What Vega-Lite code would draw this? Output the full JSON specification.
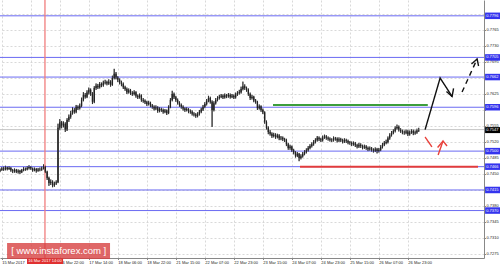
{
"$schema":"https://vega.github.io/schema/vega-lite/v6.json",
"width":484,"height":258,
"autosize":{"type":"none"},
"padding":{"left":0,"top":0,"right":16,"bottom":8},
"background":"white",
"view":{"stroke":null},
"config":{"font":"Liberation Sans"},
"datasets":{
"one":[{}],
"candles":[
{"i":0,"o":0.7457,"h":0.7462,"l":0.7454,"c":0.7459},
{"i":1,"o":0.7459,"h":0.7465,"l":0.7457,"c":0.7462},
{"i":2,"o":0.7462,"h":0.7466,"l":0.7457,"c":0.7460},
{"i":3,"o":0.7460,"h":0.7468,"l":0.7458,"c":0.7464},
{"i":4,"o":0.7464,"h":0.7466,"l":0.7458,"c":0.7461},
{"i":5,"o":0.7461,"h":0.7467,"l":0.7459,"c":0.7463},
{"i":6,"o":0.7463,"h":0.7465,"l":0.7455,"c":0.7458},
{"i":7,"o":0.7458,"h":0.7461,"l":0.7452,"c":0.7456},
{"i":8,"o":0.7456,"h":0.7462,"l":0.7453,"c":0.7459},
{"i":9,"o":0.7459,"h":0.7461,"l":0.7452,"c":0.7455},
{"i":10,"o":0.7455,"h":0.7460,"l":0.7451,"c":0.7457},
{"i":11,"o":0.7457,"h":0.7459,"l":0.7450,"c":0.7454},
{"i":12,"o":0.7454,"h":0.7461,"l":0.7452,"c":0.7458},
{"i":13,"o":0.7458,"h":0.7465,"l":0.7456,"c":0.7461},
{"i":14,"o":0.7461,"h":0.7464,"l":0.7457,"c":0.7460},
{"i":15,"o":0.7460,"h":0.7467,"l":0.7458,"c":0.7463},
{"i":16,"o":0.7463,"h":0.7469,"l":0.7460,"c":0.7465},
{"i":17,"o":0.7465,"h":0.7467,"l":0.7459,"c":0.7462},
{"i":18,"o":0.7462,"h":0.7464,"l":0.7455,"c":0.7458},
{"i":19,"o":0.7458,"h":0.7464,"l":0.7456,"c":0.7461},
{"i":20,"o":0.7461,"h":0.7463,"l":0.7453,"c":0.7457},
{"i":21,"o":0.7457,"h":0.7463,"l":0.7455,"c":0.7460},
{"i":22,"o":0.7460,"h":0.7464,"l":0.7456,"c":0.7459},
{"i":23,"o":0.7459,"h":0.7466,"l":0.7457,"c":0.7462},
{"i":24,"o":0.7462,"h":0.7471,"l":0.7460,"c":0.7466},
{"i":25,"o":0.7466,"h":0.7468,"l":0.7452,"c":0.7455},
{"i":26,"o":0.7455,"h":0.7457,"l":0.7437,"c":0.7441},
{"i":27,"o":0.7441,"h":0.7444,"l":0.7424,"c":0.7430},
{"i":28,"o":0.7430,"h":0.7438,"l":0.7426,"c":0.7433},
{"i":29,"o":0.7433,"h":0.7436,"l":0.7421,"c":0.7425},
{"i":30,"o":0.7425,"h":0.7433,"l":0.7422,"c":0.7429},
{"i":31,"o":0.7429,"h":0.7436,"l":0.7426,"c":0.7432},
{"i":32,"o":0.7432,"h":0.7560,"l":0.7430,"c":0.7551},
{"i":33,"o":0.7551,"h":0.7570,"l":0.7546,"c":0.7563},
{"i":34,"o":0.7563,"h":0.7566,"l":0.7550,"c":0.7556},
{"i":35,"o":0.7556,"h":0.7565,"l":0.7552,"c":0.7560},
{"i":36,"o":0.7560,"h":0.7563,"l":0.7542,"c":0.7547},
{"i":37,"o":0.7547,"h":0.7572,"l":0.7544,"c":0.7568},
{"i":38,"o":0.7568,"h":0.7580,"l":0.7564,"c":0.7575},
{"i":39,"o":0.7575,"h":0.7588,"l":0.7571,"c":0.7583},
{"i":40,"o":0.7583,"h":0.7596,"l":0.7580,"c":0.7590},
{"i":41,"o":0.7590,"h":0.7594,"l":0.7582,"c":0.7586},
{"i":42,"o":0.7586,"h":0.7601,"l":0.7583,"c":0.7597},
{"i":43,"o":0.7597,"h":0.7600,"l":0.7590,"c":0.7594},
{"i":44,"o":0.7594,"h":0.7604,"l":0.7591,"c":0.7599},
{"i":45,"o":0.7599,"h":0.7617,"l":0.7596,"c":0.7612},
{"i":46,"o":0.7612,"h":0.7629,"l":0.7609,"c":0.7623},
{"i":47,"o":0.7623,"h":0.7627,"l":0.7615,"c":0.7619},
{"i":48,"o":0.7619,"h":0.7633,"l":0.7616,"c":0.7628},
{"i":49,"o":0.7628,"h":0.7639,"l":0.7624,"c":0.7634},
{"i":50,"o":0.7634,"h":0.7637,"l":0.7621,"c":0.7626},
{"i":51,"o":0.7626,"h":0.7629,"l":0.7603,"c":0.7608},
{"i":52,"o":0.7608,"h":0.7642,"l":0.7605,"c":0.7638},
{"i":53,"o":0.7638,"h":0.7648,"l":0.7634,"c":0.7643},
{"i":54,"o":0.7643,"h":0.7647,"l":0.7636,"c":0.7640},
{"i":55,"o":0.7640,"h":0.7651,"l":0.7637,"c":0.7647},
{"i":56,"o":0.7647,"h":0.7650,"l":0.7640,"c":0.7644},
{"i":57,"o":0.7644,"h":0.7654,"l":0.7641,"c":0.7650},
{"i":58,"o":0.7650,"h":0.7656,"l":0.7646,"c":0.7651},
{"i":59,"o":0.7651,"h":0.7654,"l":0.7644,"c":0.7648},
{"i":60,"o":0.7648,"h":0.7657,"l":0.7645,"c":0.7652},
{"i":61,"o":0.7652,"h":0.7655,"l":0.7641,"c":0.7645},
{"i":62,"o":0.7645,"h":0.7665,"l":0.7643,"c":0.7660},
{"i":63,"o":0.7660,"h":0.7680,"l":0.7657,"c":0.7669},
{"i":64,"o":0.7669,"h":0.7673,"l":0.7657,"c":0.7661},
{"i":65,"o":0.7661,"h":0.7664,"l":0.7651,"c":0.7656},
{"i":66,"o":0.7656,"h":0.7659,"l":0.7646,"c":0.7650},
{"i":67,"o":0.7650,"h":0.7654,"l":0.7642,"c":0.7647},
{"i":68,"o":0.7647,"h":0.7650,"l":0.7636,"c":0.7640},
{"i":69,"o":0.7640,"h":0.7643,"l":0.7632,"c":0.7636},
{"i":70,"o":0.7636,"h":0.7639,"l":0.7625,"c":0.7629},
{"i":71,"o":0.7629,"h":0.7637,"l":0.7626,"c":0.7633},
{"i":72,"o":0.7633,"h":0.7636,"l":0.7623,"c":0.7627},
{"i":73,"o":0.7627,"h":0.7631,"l":0.7621,"c":0.7625},
{"i":74,"o":0.7625,"h":0.7633,"l":0.7622,"c":0.7629},
{"i":75,"o":0.7629,"h":0.7631,"l":0.7617,"c":0.7621},
{"i":76,"o":0.7621,"h":0.7624,"l":0.7614,"c":0.7618},
{"i":77,"o":0.7618,"h":0.7626,"l":0.7615,"c":0.7622},
{"i":78,"o":0.7622,"h":0.7624,"l":0.7608,"c":0.7612},
{"i":79,"o":0.7612,"h":0.7616,"l":0.7606,"c":0.7610},
{"i":80,"o":0.7610,"h":0.7613,"l":0.7603,"c":0.7607},
{"i":81,"o":0.7607,"h":0.7610,"l":0.7599,"c":0.7603},
{"i":82,"o":0.7603,"h":0.7610,"l":0.7600,"c":0.7606},
{"i":83,"o":0.7606,"h":0.7608,"l":0.7596,"c":0.7600},
{"i":84,"o":0.7600,"h":0.7603,"l":0.7593,"c":0.7597},
{"i":85,"o":0.7597,"h":0.7600,"l":0.7589,"c":0.7593},
{"i":86,"o":0.7593,"h":0.7600,"l":0.7590,"c":0.7596},
{"i":87,"o":0.7596,"h":0.7598,"l":0.7584,"c":0.7588},
{"i":88,"o":0.7588,"h":0.7596,"l":0.7585,"c":0.7592},
{"i":89,"o":0.7592,"h":0.7595,"l":0.7586,"c":0.7590},
{"i":90,"o":0.7590,"h":0.7593,"l":0.7582,"c":0.7586},
{"i":91,"o":0.7586,"h":0.7592,"l":0.7583,"c":0.7589},
{"i":92,"o":0.7589,"h":0.7591,"l":0.7579,"c":0.7583},
{"i":93,"o":0.7583,"h":0.7600,"l":0.7581,"c":0.7596},
{"i":94,"o":0.7596,"h":0.7616,"l":0.7594,"c":0.7612},
{"i":95,"o":0.7612,"h":0.7632,"l":0.7609,"c":0.7625},
{"i":96,"o":0.7625,"h":0.7628,"l":0.7614,"c":0.7618},
{"i":97,"o":0.7618,"h":0.7621,"l":0.7608,"c":0.7612},
{"i":98,"o":0.7612,"h":0.7615,"l":0.7602,"c":0.7606},
{"i":99,"o":0.7606,"h":0.7609,"l":0.7597,"c":0.7601},
{"i":100,"o":0.7601,"h":0.7604,"l":0.7593,"c":0.7597},
{"i":101,"o":0.7597,"h":0.7600,"l":0.7589,"c":0.7593},
{"i":102,"o":0.7593,"h":0.7596,"l":0.7586,"c":0.7590},
{"i":103,"o":0.7590,"h":0.7596,"l":0.7587,"c":0.7592},
{"i":104,"o":0.7592,"h":0.7594,"l":0.7583,"c":0.7587},
{"i":105,"o":0.7587,"h":0.7591,"l":0.7582,"c":0.7586},
{"i":106,"o":0.7586,"h":0.7589,"l":0.7578,"c":0.7582},
{"i":107,"o":0.7582,"h":0.7585,"l":0.7576,"c":0.7580},
{"i":108,"o":0.7580,"h":0.7583,"l":0.7573,"c":0.7577},
{"i":109,"o":0.7577,"h":0.7585,"l":0.7574,"c":0.7581},
{"i":110,"o":0.7581,"h":0.7590,"l":0.7578,"c":0.7586},
{"i":111,"o":0.7586,"h":0.7595,"l":0.7583,"c":0.7591},
{"i":112,"o":0.7591,"h":0.7601,"l":0.7588,"c":0.7597},
{"i":113,"o":0.7597,"h":0.7607,"l":0.7594,"c":0.7603},
{"i":114,"o":0.7603,"h":0.7614,"l":0.7600,"c":0.7610},
{"i":115,"o":0.7610,"h":0.7621,"l":0.7607,"c":0.7616},
{"i":116,"o":0.7616,"h":0.7619,"l":0.7604,"c":0.7608},
{"i":117,"o":0.7608,"h":0.7611,"l":0.7553,"c":0.7590},
{"i":118,"o":0.7590,"h":0.7609,"l":0.7587,"c":0.7605},
{"i":119,"o":0.7605,"h":0.7616,"l":0.7602,"c":0.7612},
{"i":120,"o":0.7612,"h":0.7620,"l":0.7609,"c":0.7616},
{"i":121,"o":0.7616,"h":0.7623,"l":0.7613,"c":0.7619},
{"i":122,"o":0.7619,"h":0.7625,"l":0.7616,"c":0.7621},
{"i":123,"o":0.7621,"h":0.7624,"l":0.7614,"c":0.7618},
{"i":124,"o":0.7618,"h":0.7626,"l":0.7615,"c":0.7622},
{"i":125,"o":0.7622,"h":0.7625,"l":0.7616,"c":0.7620},
{"i":126,"o":0.7620,"h":0.7627,"l":0.7617,"c":0.7623},
{"i":127,"o":0.7623,"h":0.7626,"l":0.7615,"c":0.7619},
{"i":128,"o":0.7619,"h":0.7625,"l":0.7616,"c":0.7621},
{"i":129,"o":0.7621,"h":0.7624,"l":0.7614,"c":0.7618},
{"i":130,"o":0.7618,"h":0.7628,"l":0.7615,"c":0.7624},
{"i":131,"o":0.7624,"h":0.7631,"l":0.7621,"c":0.7627},
{"i":132,"o":0.7627,"h":0.7634,"l":0.7624,"c":0.7629},
{"i":133,"o":0.7629,"h":0.7641,"l":0.7626,"c":0.7636},
{"i":134,"o":0.7636,"h":0.7652,"l":0.7633,"c":0.7642},
{"i":135,"o":0.7642,"h":0.7646,"l":0.7634,"c":0.7638},
{"i":136,"o":0.7638,"h":0.7641,"l":0.7630,"c":0.7634},
{"i":137,"o":0.7634,"h":0.7637,"l":0.7621,"c":0.7625},
{"i":138,"o":0.7625,"h":0.7628,"l":0.7612,"c":0.7616},
{"i":139,"o":0.7616,"h":0.7623,"l":0.7613,"c":0.7619},
{"i":140,"o":0.7619,"h":0.7621,"l":0.7607,"c":0.7611},
{"i":141,"o":0.7611,"h":0.7614,"l":0.7604,"c":0.7608},
{"i":142,"o":0.7608,"h":0.7610,"l":0.7590,"c":0.7594},
{"i":143,"o":0.7594,"h":0.7602,"l":0.7591,"c":0.7598},
{"i":144,"o":0.7598,"h":0.7600,"l":0.7586,"c":0.7590},
{"i":145,"o":0.7590,"h":0.7593,"l":0.7581,"c":0.7585},
{"i":146,"o":0.7585,"h":0.7587,"l":0.7560,"c":0.7564},
{"i":147,"o":0.7564,"h":0.7567,"l":0.7547,"c":0.7551},
{"i":148,"o":0.7551,"h":0.7554,"l":0.7537,"c":0.7542},
{"i":149,"o":0.7542,"h":0.7546,"l":0.7534,"c":0.7538},
{"i":150,"o":0.7538,"h":0.7541,"l":0.7529,"c":0.7533},
{"i":151,"o":0.7533,"h":0.7540,"l":0.7530,"c":0.7536},
{"i":152,"o":0.7536,"h":0.7539,"l":0.7527,"c":0.7531},
{"i":153,"o":0.7531,"h":0.7538,"l":0.7528,"c":0.7534},
{"i":154,"o":0.7534,"h":0.7537,"l":0.7524,"c":0.7528},
{"i":155,"o":0.7528,"h":0.7533,"l":0.7524,"c":0.7529},
{"i":156,"o":0.7529,"h":0.7532,"l":0.7522,"c":0.7526},
{"i":157,"o":0.7526,"h":0.7529,"l":0.7520,"c":0.7524},
{"i":158,"o":0.7524,"h":0.7527,"l":0.7511,"c":0.7515},
{"i":159,"o":0.7515,"h":0.7518,"l":0.7503,"c":0.7507},
{"i":160,"o":0.7507,"h":0.7514,"l":0.7503,"c":0.7510},
{"i":161,"o":0.7510,"h":0.7512,"l":0.7498,"c":0.7502},
{"i":162,"o":0.7502,"h":0.7505,"l":0.7493,"c":0.7497},
{"i":163,"o":0.7497,"h":0.7500,"l":0.7486,"c":0.7490},
{"i":164,"o":0.7490,"h":0.7498,"l":0.7487,"c":0.7494},
{"i":165,"o":0.7494,"h":0.7496,"l":0.7478,"c":0.7485},
{"i":166,"o":0.7485,"h":0.7493,"l":0.7482,"c":0.7489},
{"i":167,"o":0.7489,"h":0.7498,"l":0.7486,"c":0.7494},
{"i":168,"o":0.7494,"h":0.7502,"l":0.7491,"c":0.7498},
{"i":169,"o":0.7498,"h":0.7506,"l":0.7495,"c":0.7502},
{"i":170,"o":0.7502,"h":0.7511,"l":0.7499,"c":0.7507},
{"i":171,"o":0.7507,"h":0.7515,"l":0.7504,"c":0.7511},
{"i":172,"o":0.7511,"h":0.7519,"l":0.7508,"c":0.7515},
{"i":173,"o":0.7515,"h":0.7524,"l":0.7512,"c":0.7520},
{"i":174,"o":0.7520,"h":0.7528,"l":0.7517,"c":0.7524},
{"i":175,"o":0.7524,"h":0.7533,"l":0.7521,"c":0.7529},
{"i":176,"o":0.7529,"h":0.7532,"l":0.7522,"c":0.7526},
{"i":177,"o":0.7526,"h":0.7529,"l":0.7520,"c":0.7524},
{"i":178,"o":0.7524,"h":0.7534,"l":0.7521,"c":0.7530},
{"i":179,"o":0.7530,"h":0.7536,"l":0.7527,"c":0.7532},
{"i":180,"o":0.7532,"h":0.7535,"l":0.7525,"c":0.7529},
{"i":181,"o":0.7529,"h":0.7532,"l":0.7523,"c":0.7527},
{"i":182,"o":0.7527,"h":0.7530,"l":0.7521,"c":0.7525},
{"i":183,"o":0.7525,"h":0.7528,"l":0.7520,"c":0.7524},
{"i":184,"o":0.7524,"h":0.7532,"l":0.7521,"c":0.7528},
{"i":185,"o":0.7528,"h":0.7531,"l":0.7523,"c":0.7527},
{"i":186,"o":0.7527,"h":0.7530,"l":0.7519,"c":0.7523},
{"i":187,"o":0.7523,"h":0.7530,"l":0.7520,"c":0.7526},
{"i":188,"o":0.7526,"h":0.7529,"l":0.7520,"c":0.7524},
{"i":189,"o":0.7524,"h":0.7527,"l":0.7517,"c":0.7521},
{"i":190,"o":0.7521,"h":0.7528,"l":0.7518,"c":0.7524},
{"i":191,"o":0.7524,"h":0.7527,"l":0.7518,"c":0.7522},
{"i":192,"o":0.7522,"h":0.7525,"l":0.7515,"c":0.7519},
{"i":193,"o":0.7519,"h":0.7522,"l":0.7514,"c":0.7518},
{"i":194,"o":0.7518,"h":0.7521,"l":0.7511,"c":0.7515},
{"i":195,"o":0.7515,"h":0.7521,"l":0.7512,"c":0.7517},
{"i":196,"o":0.7517,"h":0.7520,"l":0.7509,"c":0.7513},
{"i":197,"o":0.7513,"h":0.7516,"l":0.7506,"c":0.7510},
{"i":198,"o":0.7510,"h":0.7518,"l":0.7507,"c":0.7514},
{"i":199,"o":0.7514,"h":0.7517,"l":0.7507,"c":0.7511},
{"i":200,"o":0.7511,"h":0.7514,"l":0.7504,"c":0.7508},
{"i":201,"o":0.7508,"h":0.7514,"l":0.7505,"c":0.7510},
{"i":202,"o":0.7510,"h":0.7513,"l":0.7503,"c":0.7507},
{"i":203,"o":0.7507,"h":0.7510,"l":0.7500,"c":0.7504},
{"i":204,"o":0.7504,"h":0.7510,"l":0.7501,"c":0.7506},
{"i":205,"o":0.7506,"h":0.7509,"l":0.7499,"c":0.7503},
{"i":206,"o":0.7503,"h":0.7506,"l":0.7497,"c":0.7501},
{"i":207,"o":0.7501,"h":0.7508,"l":0.7498,"c":0.7504},
{"i":208,"o":0.7504,"h":0.7507,"l":0.7495,"c":0.7500},
{"i":209,"o":0.7500,"h":0.7507,"l":0.7497,"c":0.7503},
{"i":210,"o":0.7503,"h":0.7513,"l":0.7500,"c":0.7509},
{"i":211,"o":0.7509,"h":0.7518,"l":0.7506,"c":0.7514},
{"i":212,"o":0.7514,"h":0.7522,"l":0.7511,"c":0.7518},
{"i":213,"o":0.7518,"h":0.7525,"l":0.7515,"c":0.7520},
{"i":214,"o":0.7520,"h":0.7532,"l":0.7517,"c":0.7528},
{"i":215,"o":0.7528,"h":0.7539,"l":0.7525,"c":0.7535},
{"i":216,"o":0.7535,"h":0.7544,"l":0.7532,"c":0.7540},
{"i":217,"o":0.7540,"h":0.7548,"l":0.7537,"c":0.7544},
{"i":218,"o":0.7544,"h":0.7554,"l":0.7541,"c":0.7550},
{"i":219,"o":0.7550,"h":0.7558,"l":0.7547,"c":0.7553},
{"i":220,"o":0.7553,"h":0.7556,"l":0.7543,"c":0.7547},
{"i":221,"o":0.7547,"h":0.7550,"l":0.7540,"c":0.7544},
{"i":222,"o":0.7544,"h":0.7547,"l":0.7537,"c":0.7541},
{"i":223,"o":0.7541,"h":0.7545,"l":0.7536,"c":0.7540},
{"i":224,"o":0.7540,"h":0.7547,"l":0.7537,"c":0.7543},
{"i":225,"o":0.7543,"h":0.7546,"l":0.7533,"c":0.7537},
{"i":226,"o":0.7537,"h":0.7545,"l":0.7534,"c":0.7541},
{"i":227,"o":0.7541,"h":0.7548,"l":0.7538,"c":0.7544},
{"i":228,"o":0.7544,"h":0.7547,"l":0.7535,"c":0.7539},
{"i":229,"o":0.7539,"h":0.7545,"l":0.7536,"c":0.7541},
{"i":230,"o":0.7541,"h":0.7549,"l":0.7538,"c":0.7545},
{"i":231,"o":0.7545,"h":0.7551,"l":0.7542,"c":0.7547}
],
"levels":[
{"p":0.7796,"label":"0.7796"},
{"p":0.7705,"label":"0.7705"},
{"p":0.7662,"label":"0.7662"},
{"p":0.7596,"label":"0.7596"},
{"p":0.7500,"label":"0.7500"},
{"p":0.7466,"label":"0.7466"},
{"p":0.7415,"label":"0.7415"},
{"p":0.7370,"label":"0.7370"}
],
"paths":[
{"seg":"a","ord":0,"i":234.5,"p":0.7547,"kind":"up"},
{"seg":"a","ord":1,"i":242.8,"p":0.7660,"kind":"up"},
{"seg":"a","ord":2,"i":249.4,"p":0.76195,"kind":"up"},
{"seg":"ah","ord":0,"i":246.3,"p":0.76304,"kind":"up"},
{"seg":"ah","ord":1,"i":249.4,"p":0.76195,"kind":"up"},
{"seg":"ah","ord":2,"i":250.2,"p":0.7637,"kind":"up"},
{"seg":"b","ord":0,"i":254.9,"p":0.76294,"kind":"updash"},
{"seg":"b","ord":1,"i":263.2,"p":0.77015,"kind":"updash"},
{"seg":"bh","ord":0,"i":260.1,"p":0.76906,"kind":"up"},
{"seg":"bh","ord":1,"i":263.2,"p":0.77015,"kind":"up"},
{"seg":"bh","ord":2,"i":264.0,"p":0.76862,"kind":"up"},
{"seg":"c1","ord":0,"i":234.5,"p":0.75309,"kind":"down"},
{"seg":"c1","ord":1,"i":238.3,"p":0.75091,"kind":"down"},
{"seg":"c2","ord":0,"i":241.7,"p":0.74916,"kind":"down"},
{"seg":"c2","ord":1,"i":244.4,"p":0.75222,"kind":"down"},
{"seg":"ch","ord":0,"i":241.4,"p":0.75079,"kind":"down"},
{"seg":"ch","ord":1,"i":244.4,"p":0.75222,"kind":"down"},
{"seg":"ch","ord":2,"i":246.6,"p":0.75112,"kind":"down"}
]
},
"layer":[
{
"data":{"name":"candles"},
"mark":{"type":"rule","color":"#222","strokeWidth":0.8},
"encoding":{
"x":{"field":"i","type":"quantitative","title":null,
"scale":{"domain":[0,267],"nice":false,"zero":false},
"axis":{"values":[1,17,33,49,65,81,97,113,129,145,161,177,193,209,225],"tickCount":60,
"labelExpr":"datum.value==1?'15 Mar 2017':datum.value==17?'':datum.value==33?'16 Mar 22:00':datum.value==49?'17 Mar 14:00':datum.value==65?'18 Mar 06:00':datum.value==81?'18 Mar 22:00':datum.value==97?'21 Mar 15:00':datum.value==113?'22 Mar 07:00':datum.value==129?'22 Mar 23:00':datum.value==145?'23 Mar 15:00':datum.value==161?'24 Mar 07:00':datum.value==177?'24 Mar 23:00':datum.value==193?'25 Mar 15:00':datum.value==209?'26 Mar 07:00':'26 Mar 23:00'",
"labelAlign":"left","labelBaseline":"top","labelPadding":0.5,"labelFontSize":4,"labelColor":"#222","labelFlush":false,"labelOverlap":false,
"tickSize":1.5,"tickColor":"#888","domainColor":"#888","domainWidth":1,
"grid":true,"gridColor":"#cfcfcf","gridDash":[2,2],"gridWidth":0.8}},
"y":{"field":"l","type":"quantitative","title":null,
"scale":{"domain":[0.72662,0.78306],"nice":false,"zero":false},
"axis":{"orient":"right","values":[0.7275,0.731,0.7345,0.738,0.7415,0.745,0.7485,0.752,0.7555,0.759,0.7625,0.766,0.7695,0.773,0.7765,0.78],"tickCount":60,
"labelExpr":"(abs(datum.value-0.78)<0.00001 || abs(datum.value-0.766)<0.00001 || abs(datum.value-0.759)<0.00001 || abs(datum.value-0.7415)<0.00001) ? '' : format(datum.value,'.4f')",
"labelAlign":"left","labelPadding":0.5,"labelFontSize":4,"labelColor":"#222","labelFlush":false,"labelOverlap":false,
"tickSize":1.5,"tickColor":"#888","domainColor":"#888","domainWidth":1,
"grid":true,"gridColor":"#cfcfcf","gridDash":[2,2],"gridWidth":0.8}},
"y2":{"field":"h"}
}
},
{
"data":{"name":"one"},
"mark":{"type":"rule","color":"#c4c4c4","strokeWidth":1},
"encoding":{"y":{"datum":0.7547,"type":"quantitative"}}
},
{
"data":{"name":"levels"},
"mark":{"type":"rule","color":"#6a6af2","strokeWidth":1},
"encoding":{"y":{"field":"p","type":"quantitative"}}
},
{
"data":{"name":"one"},
"mark":{"type":"rule","color":"#f07a7a","strokeWidth":1.5,"opacity":0.85},
"encoding":{"x":{"datum":24.8,"type":"quantitative"}}
},
{
"data":{"name":"one"},
"mark":{"type":"rule","color":"#3c9e3c","strokeWidth":2},
"encoding":{"x":{"datum":150.6,"type":"quantitative"},"x2":{"datum":236},"y":{"datum":0.7601,"type":"quantitative"}}
},
{
"data":{"name":"one"},
"mark":{"type":"rule","color":"#e23c3c","strokeWidth":2},
"encoding":{"x":{"datum":165.5,"type":"quantitative"},"x2":{"datum":263.7},"y":{"datum":0.7466,"type":"quantitative"}}
},
{
"data":{"name":"candles"},
"mark":{"type":"rule","color":"#222","strokeWidth":0.8},
"encoding":{"x":{"field":"i","type":"quantitative"},"y":{"field":"l","type":"quantitative"},"y2":{"field":"h"}}
},
{
"data":{"name":"candles"},
"mark":{"type":"rule","color":"#222","strokeWidth":1.3},
"encoding":{"x":{"field":"i","type":"quantitative"},"y":{"field":"o","type":"quantitative"},"y2":{"field":"c"}}
},
{
"data":{"name":"paths"},
"mark":{"type":"line","strokeWidth":1.4,"clip":false},
"encoding":{
"x":{"field":"i","type":"quantitative"},
"y":{"field":"p","type":"quantitative"},
"detail":{"field":"seg"},
"order":{"field":"ord","type":"quantitative"},
"color":{"field":"kind","type":"nominal","legend":null,"scale":{"domain":["up","updash","down"],"range":["#111111","#111111","#e8403a"]}},
"strokeDash":{"field":"kind","type":"nominal","legend":null,"scale":{"domain":["up","updash","down"],"range":[[1,0],[5,4],[1,0]]}}
}
},
{
"data":{"name":"levels"},
"mark":{"type":"rule","color":"#3434ee","strokeWidth":6.5,"clip":false},
"encoding":{"x":{"datum":267.6,"type":"quantitative"},"x2":{"datum":276},"y":{"field":"p","type":"quantitative"}}
},
{
"data":{"name":"levels"},
"mark":{"type":"text","color":"white","fontSize":4,"align":"left","baseline":"middle","clip":false},
"encoding":{"x":{"datum":268.2,"type":"quantitative"},"y":{"field":"p","type":"quantitative"},"text":{"field":"label"}}
},
{
"data":{"name":"one"},
"mark":{"type":"rule","color":"#000","strokeWidth":6,"clip":false},
"encoding":{"x":{"datum":267.6,"type":"quantitative"},"x2":{"datum":276},"y":{"datum":0.7546,"type":"quantitative"}}
},
{
"data":{"name":"one"},
"mark":{"type":"text","color":"white","fontSize":4,"align":"left","baseline":"middle","clip":false,"text":"0.7547"},
"encoding":{"x":{"datum":268.2,"type":"quantitative"},"y":{"datum":0.7546,"type":"quantitative"}}
},
{
"data":{"name":"one"},
"mark":{"type":"rule","color":"#e03030","strokeWidth":6,"clip":false},
"encoding":{"x":{"datum":14.9,"type":"quantitative"},"x2":{"datum":34.8},"y":{"datum":0.72597,"type":"quantitative"}}
},
{
"data":{"name":"one"},
"mark":{"type":"text","color":"white","fontSize":4,"align":"center","baseline":"middle","clip":false,"text":"16 Mar 2017 14:00"},
"encoding":{"x":{"datum":24.8,"type":"quantitative"},"y":{"datum":0.72597,"type":"quantitative"}}
},
{
"data":{"name":"one"},
"mark":{"type":"rect","color":"#d63c3c","opacity":0.78,"clip":false},
"encoding":{"x":{"datum":3.9,"type":"quantitative"},"x2":{"datum":60.7},"y":{"datum":0.72991,"type":"quantitative"},"y2":{"datum":0.7264}}
},
{
"data":{"name":"one"},
"mark":{"type":"text","color":"white","fontSize":9.5,"align":"center","baseline":"middle","clip":false,"text":"[ www.instaforex.com ]"},
"encoding":{"x":{"datum":32.4,"type":"quantitative"},"y":{"datum":0.72805,"type":"quantitative"}}
}
]
}
